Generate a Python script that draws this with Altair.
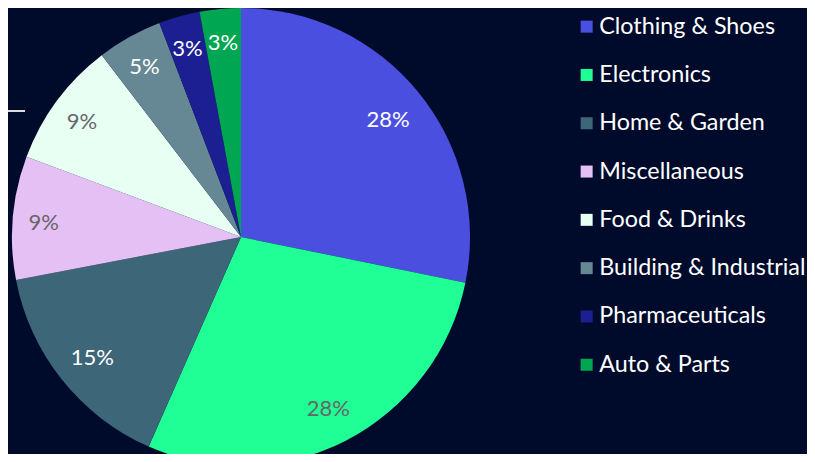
import altair as alt
import pandas as pd

categories = ["Clothing & Shoes", "Electronics", "Home & Garden", "Miscellaneous",
              "Food & Drinks", "Building & Industrial", "Pharmaceuticals", "Auto & Parts"]
shares = [28.2, 28.4, 15.4, 8.7, 8.9, 4.6, 2.9, 2.9]
colors = ["#4a4fe0", "#1fff96", "#3d6678", "#e4c0f5",
          "#e8fff4", "#668895", "#1b1f91", "#00a651"]
light_slices = ["Electronics", "Miscellaneous", "Food & Drinks"]

df = pd.DataFrame({"category": categories, "share": shares, "idx": list(range(len(categories)))})

arcs = alt.Chart(df).mark_arc(outerRadius=229, stroke=None).encode(
    theta=alt.Theta("share:Q", stack=True),
    order=alt.Order("idx:Q"),
    x=alt.value(233),
    y=alt.value(229),
    color=alt.Color(
        "category:N",
        scale=alt.Scale(domain=categories, range=colors),
        sort=categories,
        legend=alt.Legend(
            orient="none", legendX=567, legendY=7, title=None,
            symbolType="square", symbolSize=144, symbolStrokeWidth=0,
            labelFontSize=23.3, labelFont="Lato", labelColor="white",
            labelOffset=1, rowPadding=24.3, labelLimit=400,
        ),
    ),
)

label_base = alt.Chart(df).transform_window(
    cum="sum(share)", sort=[alt.SortField("idx")], frame=[None, 0]
).transform_joinaggregate(
    total="sum(share)"
).transform_calculate(
    mid="(datum.cum - datum.share / 2) / datum.total",
    label="format(datum.share, '.0f') + '%'",
).encode(
    theta=alt.Theta("mid:Q", scale=alt.Scale(domain=[0, 1], range=[0, 6.283185307179586]), stack=None),
    x=alt.value(233),
    y=alt.value(229),
    text="label:N",
    color=alt.condition(
        alt.FieldOneOfPredicate(field="category", oneOf=light_slices),
        alt.value("#666666"),
        alt.value("#ffffff"),
    ),
)

big_labels = label_base.transform_filter("datum.share >= 10").mark_text(
    radius=190, fontSize=22, font="Lato", dy=3)
small_labels = label_base.transform_filter("datum.share < 10").mark_text(
    radius=198, fontSize=22, font="Lato", dy=3)

labels = alt.layer(big_labels, small_labels)

stray = alt.Chart(df).mark_rule(color="#dddddd", strokeWidth=1.5).encode(
    x=alt.value(0), x2=alt.value(17), y=alt.value(103)
)

chart = alt.layer(arcs, labels, stray).resolve_scale(
    theta="independent", color="independent"
).properties(
    width=799, height=446, autosize=alt.AutoSizeParams(type="none"), padding=0,
    background="#000b2c",
).configure_view(stroke=None)

chart.save("out.html", embed_options={"renderer": "svg", "actions": False})
